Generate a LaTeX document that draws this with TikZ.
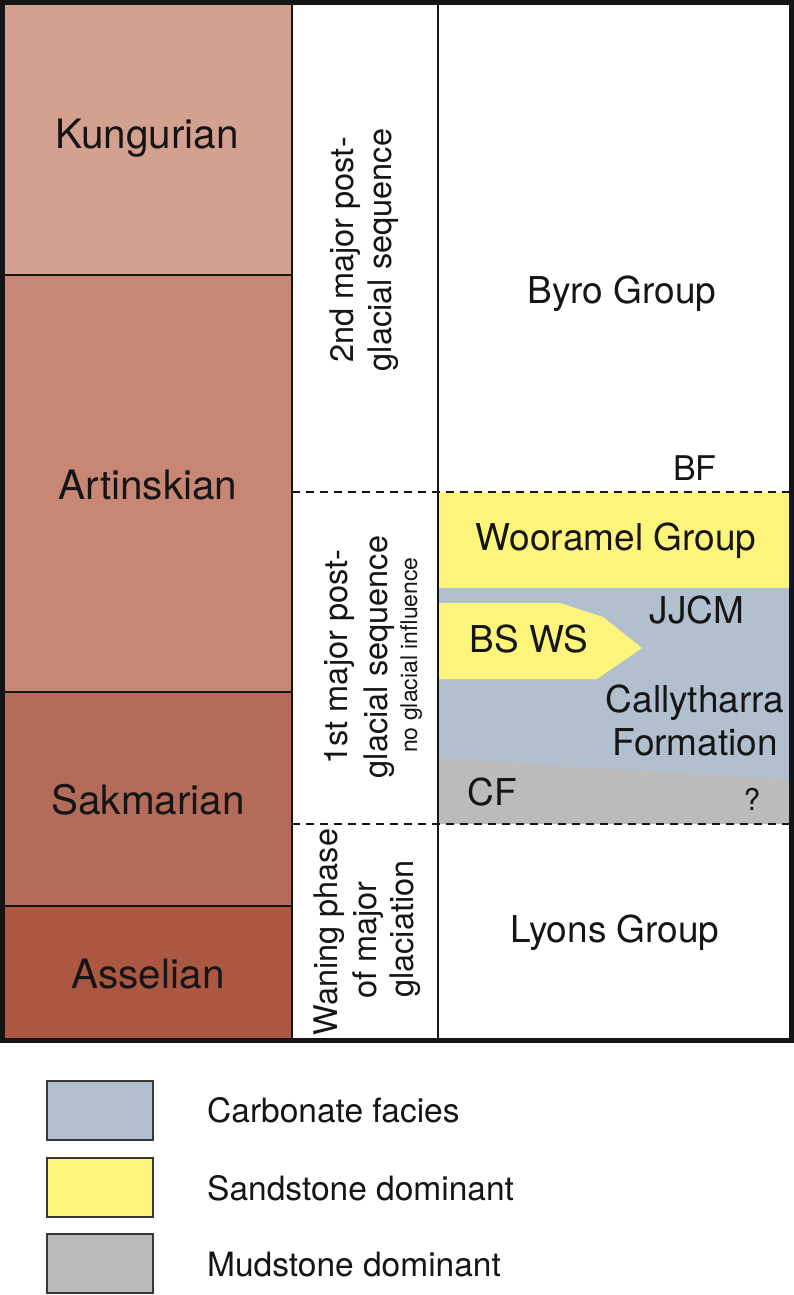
\documentclass[tikz,border=0pt]{standalone}
\usepackage{fontspec}
\setmainfont{TeX Gyre Heros}
\definecolor{kung}{HTML}{D4A190}
\definecolor{arti}{HTML}{C88674}
\definecolor{sakm}{HTML}{B36B5A}
\definecolor{asse}{HTML}{AB5741}
\definecolor{sand}{HTML}{FDF57B}
\definecolor{carb}{HTML}{B1BFCF}
\definecolor{mud}{HTML}{BBBBBA}
\definecolor{ink}{HTML}{151515}
\tikzset{
  stage/.style={anchor=base, inner sep=0pt, text=ink, font=\fontsize{40.5}{46}\selectfont},
  unit/.style={anchor=base, inner sep=0pt, text=ink, font=\fontsize{37}{42}\selectfont},
  seqtxt/.style={anchor=base, inner sep=0pt, text=ink, rotate=90, font=\fontsize{32.5}{38}\selectfont},
  seqsmall/.style={anchor=base, inner sep=0pt, text=ink, rotate=90, font=\fontsize{23}{27}\selectfont},
  legtxt/.style={anchor=base west, inner sep=0pt, text=ink, font=\fontsize{33.5}{40}\selectfont},
  legbox/.style={draw=ink!85, line width=2pt},
  divider/.style={draw=ink, line width=2.5pt},
  seqline/.style={draw=ink, line width=1.5pt, dash pattern=on 8pt off 6pt},
}
\begin{document}
\begin{tikzpicture}[x=1pt,y=-1pt]
\useasboundingbox (0,0) rectangle (794,1295);
% stage fills
\fill[kung] (2,2) rectangle (292,275);
\fill[arti] (2,275) rectangle (292,692);
\fill[sakm] (2,692) rectangle (292,906);
\fill[asse] (2,906) rectangle (292,1041);
% lithology fills
\fill[sand] (438,492) rectangle (792,588);
\fill[carb] (438,588) rectangle (792,824);
\fill[mud] (438,758) -- (792,780) -- (792,824) -- (438,824) -- cycle;
\fill[sand] (438,603) -- (560,603) -- (603,617) -- (642,648) -- (597,679) -- (438,679) -- cycle;
% dividers
\draw[divider] (2,275) -- (292,275);
\draw[divider] (2,692) -- (292,692);
\draw[divider] (2,906) -- (292,906);
\draw[divider] (292,2) -- (292,1041);
\draw[divider] (438,2) -- (438,1041);
\draw[seqline] (292,492) -- (792,492);
\draw[seqline] (292,824) -- (792,824);
% outer frame
\draw[ink, line width=5pt] (2.5,2.5) rectangle (791.5,1040.5);
% stage labels
\node[stage] (kungurian) at (147,148) {Kungurian};
\node[stage] (artinskian) at (148,499) {Artinskian};
\node[stage] (sakmarian) at (148,814) {Sakmarian};
\node[stage] (asselian) at (148,988) {Asselian};
% sequence labels
\node[seqtxt] (s2a) at (353,250) {2nd major post-};
\node[seqtxt] (s2b) at (391,250) {glacial sequence};
\node[seqtxt] (s1a) at (347,657) {1st major post-};
\node[seqtxt] (s1b) at (387,657) {glacial sequence};
\node[seqsmall] (s1c) at (417,655) {no glacial influence};
\node[seqtxt] (swa) at (337,932) {Waning phase};
\node[seqtxt] (swb) at (376,940) {of major};
\node[seqtxt] (swc) at (413,929) {glaciation};
% units
\node[unit] (byro) at (622,303) {Byro Group};
\node[unit, font=\fontsize{34}{40}\selectfont] (bf) at (695,480) {BF};
\node[unit] (wooramel) at (616,550) {Wooramel Group};
\node[unit] (jjcm) at (697,623) {JJCM};
\node[unit] (bsws) at (529,652) {BS WS};
\node[unit] (cally) at (695,712) {Callytharra};
\node[unit] (form) at (695,755) {Formation};
\node[unit] (cf) at (492,805) {CF};
\node[unit, font=\fontsize{30}{36}\selectfont] (qm) at (752,810) {?};
\node[unit] (lyons) at (615,942) {Lyons Group};
% legend
\path[legbox, fill=carb] (47,1081) rectangle (153,1140);
\path[legbox, fill=sand] (47,1158) rectangle (153,1217);
\path[legbox, fill=mud] (47,1234) rectangle (153,1293);
\node[legtxt] (lcarb) at (207,1122) {Carbonate facies};
\node[legtxt] (lsand) at (207,1200) {Sandstone dominant};
\node[legtxt] (lmud) at (207,1276) {Mudstone dominant};
\end{tikzpicture}
\end{document}
